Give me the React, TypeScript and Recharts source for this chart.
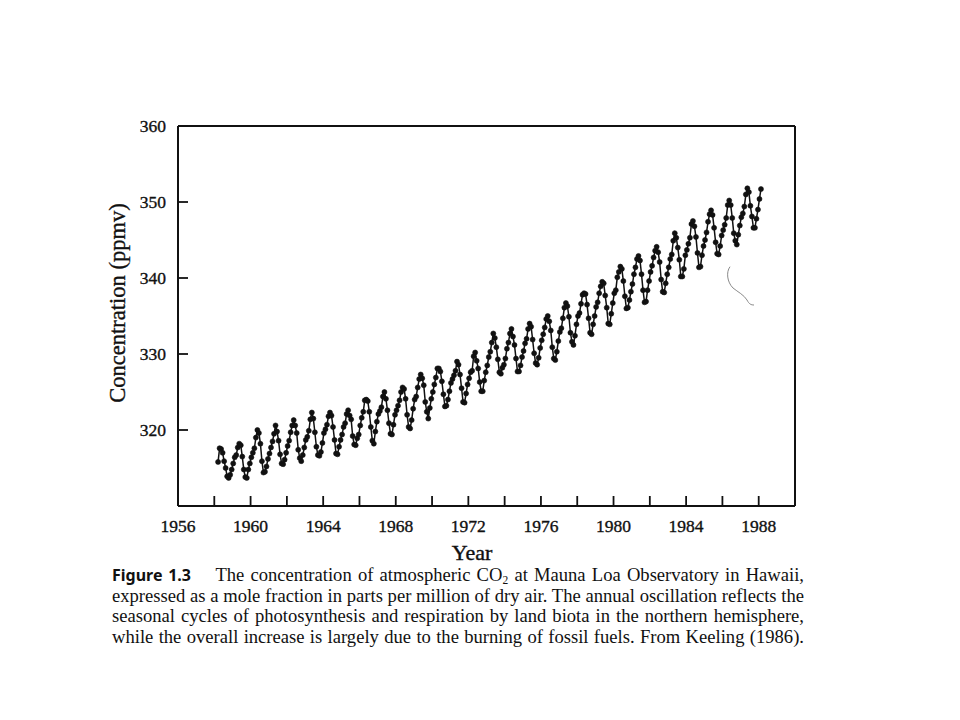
import React from "react";
import {
  LineChart,
  Line,
  XAxis,
  YAxis,
  Customized,
} from "recharts";

// ── Monthly CO2 at Mauna Loa (ppmv) ──────────────────────────────────────────
// 1958 starts in March, the record ends in Feb 1988
const ppm1958 = [315.8, 317.6, 317.5, 317.0, 315.9, 315.0, 313.9, 313.7, 314.1, 314.8];
const ppm1959 = [315.6, 316.4, 316.7, 317.7, 318.2, 318.0, 316.5, 314.8, 313.8, 313.7, 314.8, 315.6];
const ppm1960 = [316.4, 317.0, 317.6, 319.0, 320.0, 319.6, 318.2, 315.9, 314.4, 314.5, 315.2, 316.2];
const ppm1961 = [316.9, 317.7, 318.5, 319.5, 320.6, 319.8, 318.6, 316.8, 315.6, 315.5, 316.1, 317.0];
const ppm1962 = [317.9, 318.6, 319.7, 320.6, 321.3, 320.6, 319.6, 317.4, 316.3, 315.9, 316.7, 317.7];
const ppm1963 = [318.7, 319.1, 319.9, 321.4, 322.3, 321.5, 319.7, 317.8, 316.7, 316.6, 317.1, 318.3];
const ppm1964 = [319.6, 320.1, 320.7, 321.8, 322.3, 321.9, 320.4, 318.7, 316.9, 316.8, 317.8, 318.7];
const ppm1965 = [319.4, 320.4, 320.9, 322.1, 322.6, 321.9, 321.4, 319.2, 318.1, 318.0, 318.9, 319.4];
const ppm1966 = [320.6, 321.6, 322.4, 323.9, 324.0, 323.8, 322.4, 320.4, 318.6, 318.2, 319.8, 321.1];
const ppm1967 = [322.1, 322.5, 323.0, 324.4, 325.0, 324.1, 322.6, 320.9, 319.5, 319.4, 320.7, 322.0];
const ppm1968 = [322.6, 323.2, 323.9, 325.0, 325.6, 325.4, 324.1, 322.0, 320.4, 320.2, 321.3, 322.8];
const ppm1969 = [324.0, 324.4, 325.6, 326.7, 327.3, 326.8, 325.9, 323.7, 322.4, 321.5, 322.9, 324.1];
const ppm1970 = [325.0, 326.0, 326.9, 328.1, 328.1, 327.7, 326.4, 324.7, 323.1, 323.2, 324.0, 325.1];
const ppm1971 = [326.2, 326.7, 327.2, 327.8, 329.0, 328.6, 327.3, 325.5, 323.7, 323.6, 324.8, 326.0];
const ppm1972 = [326.8, 327.6, 327.8, 329.7, 330.2, 329.1, 328.1, 326.3, 325.1, 325.1, 326.5, 327.6];
const ppm1973 = [328.5, 329.6, 330.3, 331.5, 332.7, 332.1, 330.9, 329.3, 327.6, 327.4, 328.2, 328.6];
const ppm1974 = [329.4, 330.7, 331.5, 332.7, 333.3, 332.3, 331.2, 329.4, 327.7, 327.7, 328.5, 329.6];
const ppm1975 = [330.4, 331.4, 332.0, 333.3, 334.0, 333.6, 331.9, 330.1, 328.8, 328.6, 329.5, 330.8];
const ppm1976 = [331.8, 332.6, 333.5, 334.6, 335.0, 334.3, 333.1, 330.9, 329.4, 329.2, 330.3, 331.7];
const ppm1977 = [332.9, 333.4, 334.7, 336.1, 336.7, 336.3, 334.9, 332.8, 331.6, 331.2, 332.4, 333.9];
const ppm1978 = [335.0, 335.4, 336.6, 337.8, 338.0, 337.9, 336.5, 334.7, 332.8, 332.6, 333.9, 335.0];
const ppm1979 = [336.2, 336.8, 338.0, 338.9, 339.5, 339.3, 337.7, 336.1, 334.0, 333.9, 335.3, 336.7];
const ppm1980 = [338.0, 338.4, 340.1, 340.8, 341.5, 341.2, 339.6, 337.6, 336.0, 336.1, 337.1, 338.2];
const ppm1981 = [339.2, 340.5, 341.4, 342.5, 342.9, 342.3, 340.5, 338.4, 336.8, 336.9, 338.4, 339.6];
const ppm1982 = [340.8, 341.6, 342.7, 343.6, 344.1, 343.4, 342.1, 339.8, 338.2, 338.1, 339.3, 340.5];
const ppm1983 = [341.4, 342.5, 343.1, 344.9, 345.9, 345.3, 344.0, 342.4, 340.2, 340.2, 341.2, 343.0];
const ppm1984 = [343.7, 344.5, 345.3, 347.1, 347.5, 346.8, 345.4, 343.3, 341.4, 341.5, 343.0, 344.2];
const ppm1985 = [345.0, 346.0, 347.4, 348.4, 348.9, 348.3, 346.6, 344.7, 343.2, 343.1, 344.2, 345.6];
const ppm1986 = [346.3, 347.0, 347.9, 349.6, 350.2, 349.6, 347.9, 345.9, 344.9, 344.4, 345.7, 346.9];
const ppm1987 = [348.0, 348.5, 349.4, 351.0, 351.8, 351.3, 349.5, 348.1, 346.6, 346.6, 347.8, 349.0];
const ppm1988 = [350.4, 351.7];

// [year, first month (1 = Jan), monthly values]
const record: [number, number, number[]][] = [
  [1958, 3, ppm1958], [1959, 1, ppm1959], [1960, 1, ppm1960], [1961, 1, ppm1961],
  [1962, 1, ppm1962], [1963, 1, ppm1963], [1964, 1, ppm1964], [1965, 1, ppm1965],
  [1966, 1, ppm1966], [1967, 1, ppm1967], [1968, 1, ppm1968], [1969, 1, ppm1969],
  [1970, 1, ppm1970], [1971, 1, ppm1971], [1972, 1, ppm1972], [1973, 1, ppm1973],
  [1974, 1, ppm1974], [1975, 1, ppm1975], [1976, 1, ppm1976], [1977, 1, ppm1977],
  [1978, 1, ppm1978], [1979, 1, ppm1979], [1980, 1, ppm1980], [1981, 1, ppm1981],
  [1982, 1, ppm1982], [1983, 1, ppm1983], [1984, 1, ppm1984], [1985, 1, ppm1985],
  [1986, 1, ppm1986], [1987, 1, ppm1987], [1988, 1, ppm1988],
];

const yearTicks = [1956, 1958, 1960, 1962, 1964, 1966, 1968, 1970, 1972, 1974, 1976, 1978, 1980, 1982, 1984, 1986, 1988];
const topTicks = yearTicks.slice(1);
const ppmTicks = [320, 330, 340, 350, 360];

const data = record.flatMap(([year, first, values]) =>
  values.map((ppm, i) => ({ t: year + (first - 1 + i + 0.5) / 12, ppm })),
);

const SERIF = '"Liberation Serif", "DejaVu Serif", serif';
const INK = "#111";
const tickStyle = { fill: INK, fontSize: 17.5, fontFamily: SERIF, stroke: INK, strokeWidth: 0.35 };
const frame = { stroke: INK, strokeWidth: 2 };
const tickLn = { stroke: INK, strokeWidth: 1.8 };

// axis titles + the stray pen mark on the scan
function Extras() {
  return (
    <g>
      <text x={472} y={560} textAnchor="middle" fontFamily={SERIF} fontSize={22} fill={INK} stroke={INK} strokeWidth={0.4}>
        Year
      </text>
      <text
        x={125}
        y={303}
        textAnchor="middle"
        fontFamily={SERIF}
        fontSize={22.5}
        fill={INK}
        stroke={INK}
        strokeWidth={0.35}
        transform="rotate(-90 125 303)"
      >
        Concentration (ppmv)
      </text>
      <path
        d="M730 266.7 C726 272 727 282 733 288 C738 292 744 295 747 300 C749 304 751 305 754 305"
        fill="none"
        stroke="#8a8a8a"
        strokeWidth={1}
      />
    </g>
  );
}

function CaptionLine({ children }: { children: React.ReactNode }) {
  return (
    <div style={{ textAlign: "justify", textAlignLast: "justify", height: 20.5, whiteSpace: "nowrap" }}>
      {children}
    </div>
  );
}

export default function App() {
  return (
    <div style={{ position: "absolute", left: 0, top: 0, width: 960, height: 720, background: "#fff" }}>
      <LineChart
        width={960}
        height={720}
        data={data}
        margin={{ top: 125, right: 164, bottom: 184, left: 118 }}
      >
        <XAxis
          xAxisId="bottom"
          dataKey="t"
          type="number"
          domain={[1956, 1990]}
          ticks={yearTicks}
          interval={0}
          tickFormatter={(v: number) => (v % 4 === 0 ? String(v) : "")}
          tickSize={-10}
          tickMargin={24}
          height={30}
          axisLine={frame}
          tickLine={tickLn}
          tick={tickStyle}
          allowDataOverflow
        />
        <XAxis
          xAxisId="top"
          orientation="top"
          dataKey="t"
          type="number"
          domain={[1956, 1990]}
          ticks={topTicks}
          interval={0}
          tick={false}
          tickSize={-10}
          height={1}
          axisLine={frame}
          tickLine={tickLn}
        />
        <YAxis
          yAxisId="left"
          type="number"
          domain={[310, 360]}
          ticks={ppmTicks}
          interval={0}
          tickSize={-10}
          tickMargin={22}
          width={60}
          axisLine={frame}
          tickLine={tickLn}
          tick={tickStyle}
          allowDataOverflow
        />
        <YAxis
          yAxisId="right"
          orientation="right"
          type="number"
          domain={[310, 360]}
          ticks={ppmTicks}
          interval={0}
          tick={false}
          tickSize={-10}
          width={1}
          axisLine={frame}
          tickLine={tickLn}
        />
        <Line
          xAxisId="bottom"
          yAxisId="left"
          dataKey="ppm"
          type="linear"
          stroke={INK}
          strokeWidth={1.5}
          dot={{ r: 2.5, fill: INK, stroke: INK, strokeWidth: 0.6 }}
          isAnimationActive={false}
        />
        <Customized component={Extras} />
      </LineChart>

      <div
        style={{
          position: "absolute",
          left: 112,
          top: 565,
          width: 692,
          fontFamily: SERIF,
          fontSize: 18.6,
          lineHeight: "20.5px",
          color: INK,
        }}
      >
        <CaptionLine>
          <span style={{ fontFamily: '"Noto Sans", sans-serif', fontWeight: 700, fontSize: 16 }}>Figure 1.3</span>
          {"\u2003 The concentration of atmospheric CO"}
          <span style={{ fontSize: 11.5, lineHeight: "11px", position: "relative", top: 3 }}>2</span>
          {" at Mauna Loa Observatory in Hawaii,"}
        </CaptionLine>
        <CaptionLine>expressed as a mole fraction in parts per million of dry air. The annual oscillation reflects the</CaptionLine>
        <CaptionLine>seasonal cycles of photosynthesis and respiration by land biota in the northern hemisphere,</CaptionLine>
        <CaptionLine>while the overall increase is largely due to the burning of fossil fuels. From Keeling (1986).</CaptionLine>
      </div>
    </div>
  );
}
